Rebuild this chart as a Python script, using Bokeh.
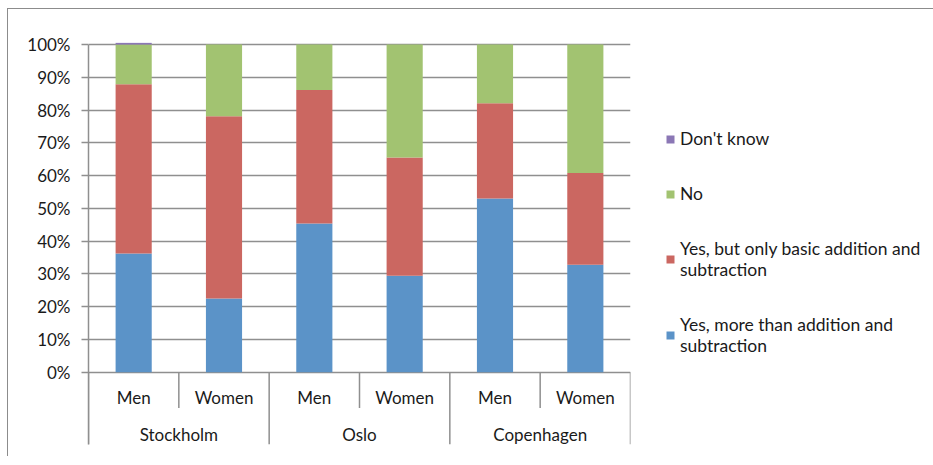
from bokeh.plotting import figure
from bokeh.models import (FactorRange, Range1d, FixedTicker, Legend, LegendItem,
                          ColumnDataSource)
from bokeh.core.properties import value
from bokeh.embed import file_html
from bokeh.resources import INLINE

# ---------------- data ----------------
cities = ["Stockholm", "Oslo", "Copenhagen"]
genders = ["Men", "Women"]
series_labels = ["Yes, more than addition and\nsubtraction",
                 "Yes, but only basic addition and\nsubtraction",
                 "No",
                 "Don't know"]
yes_more = [36.2, 22.5, 45.4, 29.4, 53.0, 32.8]
yes_basic = [51.7, 55.6, 40.7, 36.1, 29.1, 28.0]
no = [12.1, 21.9, 13.9, 34.5, 17.9, 39.2]
dont_know = [0.5, 0.0, 0.0, 0.0, 0.0, 0.0]
y_ticks = [0, 10, 20, 30, 40, 50, 60, 70, 80, 90, 100]
y_tick_labels = ["0%", "10%", "20%", "30%", "40%", "50%", "60%", "70%", "80%", "90%", "100%"]

colors = ["#5B93C8", "#CB6761", "#A2C371", "#8B77B5"]
FONT = "Lato"
GRID = "#8f8f8f"

factors = [(c, g) for c in cities for g in genders]
stack_keys = ["more", "basic", "no", "dk"]
source = ColumnDataSource(dict(x=factors, more=yes_more, basic=yes_basic, no=no, dk=dont_know))

x_range = FactorRange(*factors, factor_padding=0, group_padding=0, range_padding=0)
p = figure(frame_width=542, frame_height=402, x_range=x_range, y_range=Range1d(-22.05, 100.6),
           output_backend="svg", toolbar_location=None, x_axis_location=None,
           min_border_left=80, min_border_right=299, min_border_top=33, min_border_bottom=12)
p.styles = {"border-left": "1px solid #8c8c8c", "border-top": "1px solid #8c8c8c",
            "margin-left": "7px", "margin-top": "8px"}
p.outline_line_color = None
p.xgrid.visible = False
p.ygrid.ticker = FixedTicker(ticks=y_ticks)
p.ygrid.grid_line_color = GRID
p.ygrid.grid_line_width = 1.5

ax = p.yaxis[0]
ax.ticker = FixedTicker(ticks=y_ticks)
ax.major_label_overrides = {t: l for t, l in zip(y_ticks, y_tick_labels)}
ax.bounds = (-22.05, 100)
ax.axis_line_color = GRID
ax.axis_line_width = 1.5
ax.major_tick_line_color = GRID
ax.major_tick_line_width = 1.5
ax.major_tick_out = 7
ax.major_tick_in = 0
ax.minor_tick_line_color = None
ax.major_label_standoff = 11
ax.major_label_text_font = FONT
ax.major_label_text_font_size = "17px"
ax.major_label_text_color = "#1a1a1a"

renderers = p.vbar_stack(stack_keys, x="x", width=0.4, source=source,
                         color=colors, line_color=None)

# category separators (between every factor, longer between cities)
n = len(factors)
bx, by0, by1 = [], [], []
for i in range(n + 1):
    bx.append(i)
    by0.append(0)
    by1.append(-22.05 if i % len(genders) == 0 else -10.9)
p.segment(x0=bx, y0=by0, x1=bx, y1=by1, line_color=GRID, line_width=1.5)

# category labels
p.text(x=factors, y=[-7.6] * n, text=[g for c, g in factors],
       text_align="center", text_baseline="middle", text_font=value(FONT),
       text_font_size="17px", text_color="#1a1a1a")
p.text(x=cities, y=[-18.9] * len(cities), text=cities,
       text_align="center", text_baseline="middle", text_font=value(FONT),
       text_font_size="17px", text_color="#1a1a1a")

items = [LegendItem(label=series_labels[i], renderers=[renderers[i]]) for i in [3, 2, 1, 0]]
legend = Legend(items=items, location=(35, 88), glyph_width=10, glyph_height=10,
                label_standoff=5, padding=0, margin=0, spacing=34,
                border_line_color=None, background_fill_alpha=0,
                label_text_font=FONT, label_text_font_size="17.5px",
                label_text_color="#1a1a1a")
p.add_layout(legend, "right")

open("out.html", "w").write(file_html(p, INLINE))
